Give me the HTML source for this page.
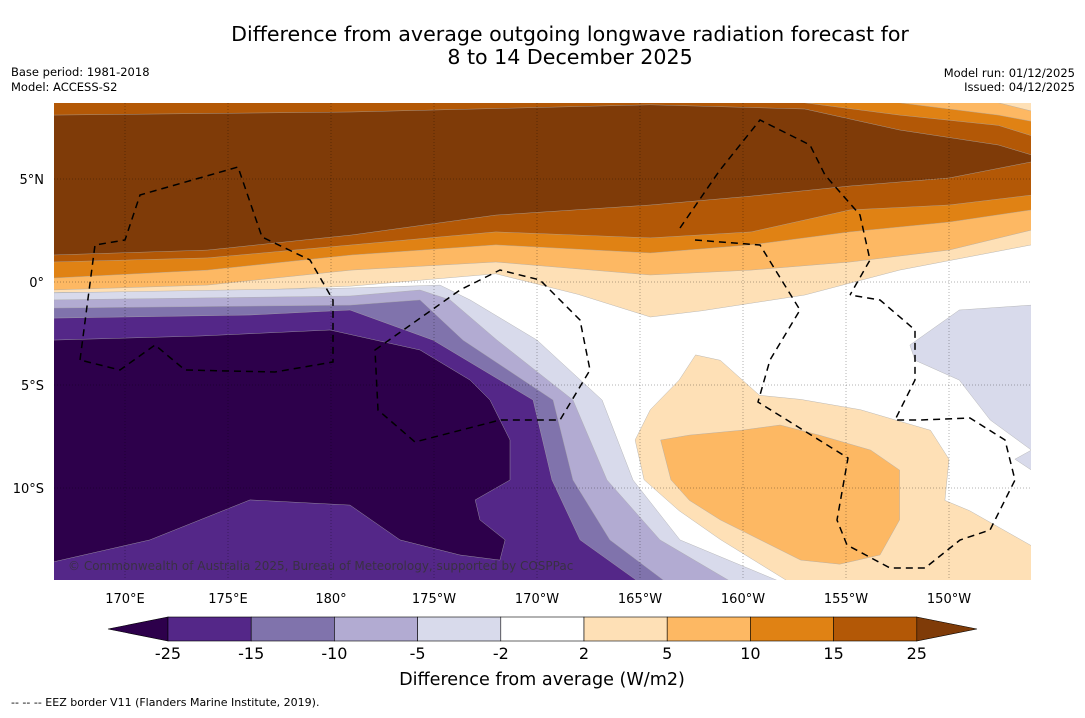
<!DOCTYPE html>
<html><head><meta charset="utf-8"><style>
body{margin:0;background:#fff;width:1085px;height:713px;overflow:hidden;font-family:"Liberation Sans","DejaVu Sans",sans-serif}
</style></head><body>
<svg width="1085" height="713" xmlns="http://www.w3.org/2000/svg" font-family="DejaVu Sans, Liberation Sans, sans-serif">
<text x="570" y="41" font-size="20.6" text-anchor="middle">Difference from average outgoing longwave radiation forecast for</text>
<text x="570" y="64" font-size="20.6" text-anchor="middle">8 to 14 December 2025</text>
<text x="11" y="76" font-size="11.5">Base period: 1981-2018</text>
<text x="11" y="91" font-size="11.5">Model: ACCESS-S2</text>
<text x="1075" y="77" font-size="11.5" text-anchor="end">Model run: 01/12/2025</text>
<text x="1075" y="91" font-size="11.5" text-anchor="end">Issued: 04/12/2025</text>
<defs><clipPath id="mc"><rect x="54" y="103" width="977" height="477"/></clipPath></defs>
<g id="map" clip-path="url(#mc)"><rect x="54" y="103" width="977" height="477" fill="#fff"/></g>
<g id="grid"></g>
<g clip-path="url(#mc)" fill="none" stroke="#000" stroke-width="1.5" stroke-dasharray="7,5">
<path d="M80,360 L95,245 L125,240 L140,195 L238,167 L262,237 L310,260 L333,300 L333,362 L275,372 L185,370 L155,345 L120,370 Z"/>
<path d="M375,350 L460,290 L500,270 L540,280 L580,320 L590,370 L560,420 L500,420 L415,442 L378,410 Z"/>
<path d="M680,228 L720,170 L760,120 L810,145 L825,175 L860,215 L870,260 L850,295 M695,240 L760,245 L800,310 L770,360 L758,402 L848,458 L837,520 L847,545 L890,568 L925,568 L960,540 L990,530 L1015,480 L1005,440 L970,418 L920,420 L895,420 L915,380 L915,330 L880,300 L850,295"/>
</g>
<text x="68" y="570" font-size="12" fill="#333" opacity="0.8">© Commonwealth of Australia 2025, Bureau of Meteorology, supported by COSPPac</text>
<g id="axes" font-size="13"></g>
<g id="cbar"></g>
<text x="542" y="685" font-size="17.6" text-anchor="middle">Difference from average (W/m2)</text>
<text x="11" y="706" font-size="11">-- -- -- EEZ border V11 (Flanders Marine Institute, 2019).</text>
</svg>
<script>
const lonTicks=[170,175,180,185,190,195,200,205,210];
const lonLabels=["170°E","175°E","180°","175°W","170°W","165°W","160°W","155°W","150°W"];
const latTicks=[5,0,-5,-10];
const latLabels=["5°N","0°","5°S","10°S"];
const levels=["-25","-15","-10","-5","-2","2","5","10","15","25"];
const colors=["#2d004b","#542788","#8073ac","#b2abd2","#d8daeb","#ffffff","#fee0b6","#fdb863","#e08214","#b35806","#7f3b08"];
// top bands: lower boundary latitude at these longitudes
const bandLons=[166.5,174,181,188,195.5,200.4,205.2,210,214];
const darkBrown=[1.31,1.55,2.28,3.25,3.74,4.17,4.66,5.05,5.83];
const brown=[0.97,1.17,1.8,2.43,2.14,2.43,3.5,3.74,4.22];
const orange=[0.19,0.58,1.31,1.8,1.41,1.8,2.43,2.91,3.5];
const lightOrange=[-0.39,-0.15,0.58,0.97,0.34,0.58,0.97,1.55,2.52];
const paleLons=[166.5,174,181,188,192,195.5,198,203,207.6,214];
const pale=[-0.5,-0.5,-0.2,0.4,-0.6,-1.7,-1.4,-0.63,0.58,1.8];
// upper boundary of dark band and lighter bands above it (top-right)
const darkTopLons=[166.5,181,195.5,203,207.6,212.4,214];
const darkTop=[8.1,8.25,8.6,8.4,7.38,6.65,6.17];
const topOrangeLons=[203,207.6,212.4,214];
const topOrange=[8.7,8.1,7.6,7.1];
const topLightLons=[207.6,212.4,214];
const topLight=[8.7,8.1,7.8];
const topPaleLons=[212.4,214];
const topPale=[8.7,8.3];
// purple boundaries [lon,lat]
const pur1=[[166.55,-0.53],[180.92,-0.29],[185.29,-0.15],[186.75,-0.87],[190.0,-2.82],[193.16,-5.73],[194.66,-9.61],[196.94,-12.52],[201.94,-14.6]];
const pur2=[[166.55,-0.87],[180.92,-0.68],[184.32,-0.39],[185.78,-0.87],[188.06,-2.82],[191.75,-5.73],[193.4,-9.61],[195.97,-12.52],[199.51,-14.6]];
const pur3=[[166.55,-1.26],[180.92,-1.12],[184.32,-0.87],[186.41,-2.82],[190.78,-5.73],[191.75,-9.61],[193.54,-12.52],[196.31,-14.6]];
const pur4=[[166.55,-1.75],[176.07,-1.6],[180.92,-1.36],[184.95,-2.82],[189.81,-5.73],[190.73,-9.61],[192.09,-12.52],[195.0,-14.6]];
const pur5=[[166.5,-2.82],[173.64,-2.62],[179.95,-2.33],[184.32,-3.3],[186.75,-4.76],[187.72,-5.73],[188.69,-7.67],[188.69,-9.61],[187.0,-10.58],[187.23,-11.55],[188.45,-12.52],[188.2,-13.5],[186.26,-13.25],[183.35,-12.52],[180.92,-10.83],[176.07,-10.58],[171.21,-12.52],[166.5,-13.59]];
const blobPale=[[194.76,-7.67],[195.5,-6.2],[196.9,-4.76],[197.7,-3.54],[198.9,-3.8],[200.8,-5.5],[202.8,-5.7],[205.7,-6.2],[209.1,-7.2],[210,-8.6],[209.8,-10.6],[211,-11.1],[214,-12.8],[214,-14.6],[202.3,-14.6],[198.9,-12.5],[196.9,-11.1],[195.2,-9.6]];
const blobOrange=[[196,-7.67],[197.4,-7.43],[199.9,-7.2],[201.8,-6.94],[203.7,-7.43],[206.2,-8.16],[207.6,-9.13],[207.6,-11.55],[206.65,-13.25],[204.7,-13.7],[202.8,-13.5],[200.8,-12.5],[198.9,-11.55],[197.4,-10.6],[196.5,-9.6]];
const blobLilac=[[208.1,-3.06],[210.5,-1.36],[214,-1.12],[214,-9.13],[213.2,-8.6],[214,-8.16],[212,-6.7],[210.5,-4.76],[208.35,-3.8]];

const X=lon=>125+(lon-170)*20.6, Y=lat=>282-lat*20.6;
const NS="http://www.w3.org/2000/svg";
const map=document.getElementById('map');
function poly(pts,fill,name){const p=document.createElementNS(NS,'polygon');
p.setAttribute('points',pts.map(q=>X(q[0]).toFixed(1)+','+Y(q[1]).toFixed(1)).join(' '));
p.setAttribute('fill',fill);p.setAttribute('stroke','#aaa');p.setAttribute('stroke-width','0.4');


map.appendChild(p);}
function topBand(lons,lats,fill,name){const pts=[[lons[0],9.5]];lons.forEach((l,i)=>pts.push([l,lats[i]]));pts.push([lons[lons.length-1]+1,lats[lats.length-1]]);pts.push([lons[lons.length-1]+1,9.5]);poly(pts,fill,name);}
topBand(paleLons,pale,colors[6],'band-2-to-5');
topBand(bandLons,lightOrange,colors[7],'band-5-to-10');
topBand(bandLons,orange,colors[8],'band-10-to-15');
topBand(bandLons,brown,colors[9],'band-15-to-25');
topBand(bandLons,darkBrown,colors[10],'band-above-25');
topBand(darkTopLons,darkTop,colors[9],'top-band-15-to-25');
topBand(topOrangeLons,topOrange,colors[8],'top-band-10-to-15');
topBand(topLightLons,topLight,colors[7],'top-band-5-to-10');
topBand(topPaleLons,topPale,colors[6],'top-band-2-to-5');
function botBand(b,fill,name){poly(b.concat([[166.5,-15]]),fill,name);}
botBand(pur1,colors[4],'band-minus2-to-minus5');
botBand(pur2,colors[3],'band-minus5-to-minus10');
botBand(pur3,colors[2],'band-minus10-to-minus15');
botBand(pur4,colors[1],'band-minus15-to-minus25');
poly(pur5,colors[0],'band-below-minus25');
poly(blobPale,colors[6],'blob-2-to-5');
poly(blobOrange,colors[7],'blob-5-to-10');
poly(blobLilac,colors[4],'blob-minus2-to-minus5');

const grid=document.getElementById('grid'),axes=document.getElementById('axes');
lonTicks.forEach((l,i)=>{const g=document.createElementNS(NS,'line');
g.setAttribute('x1',X(l));g.setAttribute('x2',X(l));g.setAttribute('y1',103);g.setAttribute('y2',580);
g.setAttribute('stroke','#000');g.setAttribute('stroke-width','0.5');g.setAttribute('stroke-dasharray','1,2');g.setAttribute('opacity','0.6');


grid.appendChild(g);
const t=document.createElementNS(NS,'text');t.setAttribute('x',X(l));t.setAttribute('y',603);t.setAttribute('text-anchor','middle');t.textContent=lonLabels[i];


axes.appendChild(t);});
latTicks.forEach((l,i)=>{const g=document.createElementNS(NS,'line');
g.setAttribute('x1',54);g.setAttribute('x2',1031);g.setAttribute('y1',Y(l));g.setAttribute('y2',Y(l));
g.setAttribute('stroke','#000');g.setAttribute('stroke-width','0.5');g.setAttribute('stroke-dasharray','1,2');g.setAttribute('opacity','0.6');


grid.appendChild(g);
const t=document.createElementNS(NS,'text');t.setAttribute('x',44);t.setAttribute('y',Y(l)+5);t.setAttribute('text-anchor','end');t.textContent=latLabels[i];


axes.appendChild(t);});

const cb=document.getElementById('cbar');const x0=168,w=83.2,y0=617,h=24;
function add(el){cb.appendChild(el);return el;}
let a=document.createElementNS(NS,'polygon');a.setAttribute('points',`108,629 ${x0},${y0} ${x0},${y0+h}`);a.setAttribute('fill',colors[0]);a.setAttribute('stroke','#000');a.setAttribute('stroke-width','0.6');


add(a);
for(let i=0;i<9;i++){const r=document.createElementNS(NS,'rect');r.setAttribute('x',x0+i*w);r.setAttribute('y',y0);r.setAttribute('width',w);r.setAttribute('height',h);r.setAttribute('fill',colors[i+1]);r.setAttribute('stroke','#000');r.setAttribute('stroke-width','0.6');


add(r);}
const xe=x0+9*w;a=document.createElementNS(NS,'polygon');a.setAttribute('points',`${xe},${y0} 977,629 ${xe},${y0+h}`);a.setAttribute('fill',colors[10]);a.setAttribute('stroke','#000');a.setAttribute('stroke-width','0.6');


add(a);
levels.forEach((v,i)=>{const t=document.createElementNS(NS,'text');t.setAttribute('x',x0+i*w);t.setAttribute('y',659);t.setAttribute('text-anchor','middle');t.setAttribute('font-size','16');t.textContent=v;


add(t);});
</script>
</body></html>
